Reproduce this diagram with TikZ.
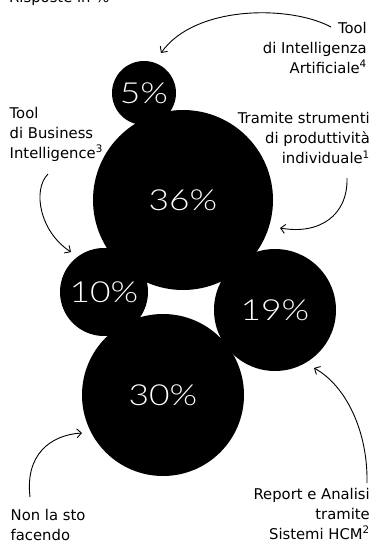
\documentclass[tikz,border=0pt]{standalone}
\usepackage{fontspec}
\setmainfont{DejaVu Sans}
\newfontfamily\numfont{Lato Light}[FakeStretch=1.22]
\usetikzlibrary{arrows.meta}
\begin{document}
\begin{tikzpicture}[x=1pt,y=-1pt,
  bubble/.style={circle,fill=black,inner sep=0pt,text=white,font=\numfont\fontsize{29}{29}\selectfont},
  lab/.style={font=\fontsize{14.8}{20}\selectfont,inner sep=0pt,text=black},
  arr/.style={-{Straight Barb[length=4.5pt,width=9pt]},line width=0.9pt}]
\useasboundingbox (0,0) rectangle (371,543);
% bubbles
\node[bubble,minimum size=64] (c5) at (144,93) {5\%};
\node[bubble,minimum size=180] (c36) at (183,200) {36\%};
\node[bubble,minimum size=88] (c10) at (104,292) {10\%};
\node[bubble,minimum size=122] (c19) at (275,310) {19\%};
\node[bubble,minimum size=162] (c30) at (163,395) {30\%};
% labels
\node[lab,anchor=base west] (title) at (9,2.5) {Risposte in \%};
\node[lab,align=right,anchor=north east] (ai) at (367,21.6) {Tool\\di Intelligenza\\Artificiale\textsuperscript{4}};
\node[lab,align=left,anchor=north west] (bi) at (9.5,106.6) {Tool\\di Business\\Intelligence\textsuperscript{3}};
\node[lab,align=right,anchor=north east] (tr) at (370,112) {Tramite strumenti\\di produttività\\individuale\textsuperscript{1}};
\node[lab,align=left,anchor=north west] (nl) at (10.5,508.6) {Non la sto\\facendo};
\node[lab,align=right,anchor=north east] (rp) at (370,487.6) {Report e Analisi\\tramite\\Sistemi HCM\textsuperscript{2}};
% arrow ends
\coordinate (a1s) at (331,27);  \coordinate (a1e) at (161,53);
\coordinate (a2s) at (48,174);  \coordinate (a2e) at (71,252);
\coordinate (a3s) at (347,178); \coordinate (a3e) at (280,228);
\coordinate (a4s) at (367,483); \coordinate (a4e) at (314,368);
\coordinate (a5s) at (30,497);  \coordinate (a5e) at (82,433);
% arrows
\draw[arr] (a1s) .. controls (290,5) and (195,5) .. (a1e);
\draw[arr] (a2s) .. controls (32,190) and (40,232) .. (a2e);
\draw[arr] (a3s) .. controls (348,215) and (320,235) .. (a3e);
\draw[arr] (a4s) .. controls (368,430) and (345,385) .. (a4e);
\draw[arr] (a5s) .. controls (25,455) and (50,435) .. (a5e);
\end{tikzpicture}
\end{document}
